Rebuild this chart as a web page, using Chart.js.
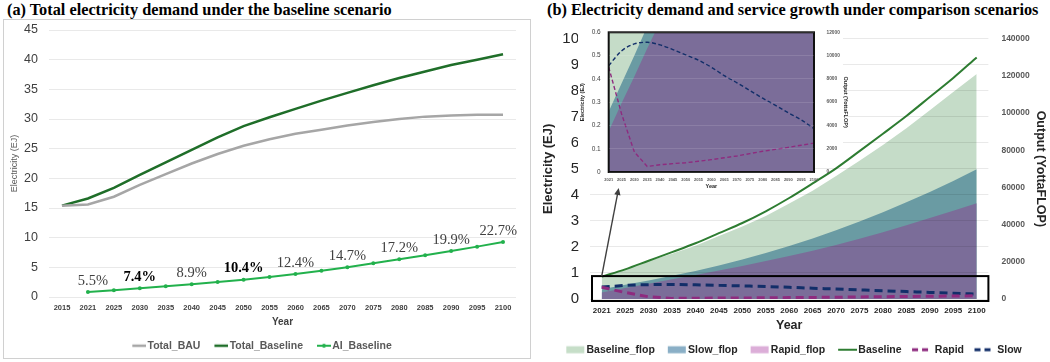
<!DOCTYPE html>
<html><head><meta charset="utf-8">
<script src="https://cdn.jsdelivr.net/npm/chart.js@4/dist/chart.umd.min.js"></script>
<style>
html,body{margin:0;padding:0;background:#fff}
body{width:1050px;height:362px;position:relative;overflow:hidden}
.ttl{position:absolute;top:1px;font-family:"Liberation Serif",serif;font-weight:bold;font-size:16.3px;color:#000;white-space:nowrap;line-height:18px}
#boxA{position:absolute;left:3px;top:19px;width:528px;height:340px;border:1px solid #D0D0D0;box-sizing:border-box}
canvas{position:absolute}
#ca{left:4px;top:20px}
#cb{left:534px;top:20px}
#ci{left:578px;top:26px}
</style></head>
<body>
<div class="ttl" style="left:7px">(a) Total electricity demand under the baseline scenario</div>
<div class="ttl" style="left:547px">(b) Electricity demand and service growth under comparison scenarios</div>
<div id="boxA"></div>
<canvas id="ca" width="524" height="341"></canvas>
<canvas id="cb" width="516" height="345"></canvas>
<canvas id="ci" width="274" height="166"></canvas>
<script>
// ---------- data ----------
const yearsA = ['2015','2021','2025','2030','2035','2040','2045','2050','2055','2060','2065','2070','2075','2080','2085','2090','2095','2100'];
const totalBAU = [15.4,15.6,16.9,18.9,20.7,22.5,24.1,25.5,26.6,27.5,28.2,28.9,29.5,30.0,30.4,30.6,30.7,30.7];
const totalBaseline = [15.4,16.6,18.4,20.6,22.7,24.8,26.9,28.8,30.3,31.7,33.1,34.4,35.7,36.9,38.0,39.1,40.0,40.9];
const aiBaseline = [null,0.86,1.14,1.47,1.8,2.14,2.53,2.92,3.37,3.88,4.44,5.02,5.68,6.35,7.03,7.76,8.49,9.28];
const shareLabels = [null,'5.5%',null,'7.4%',null,'8.9%',null,'10.4%',null,'12.4%',null,'14.7%',null,'17.2%',null,'19.9%',null,'22.7%'];
const boldShares = ['7.4%','10.4%'];

const yearsB = ['2021','2025','2030','2035','2040','2045','2050','2055','2060','2065','2070','2075','2080','2085','2090','2095','2100'];
const baselineEJ = [0.86,1.14,1.47,1.8,2.14,2.53,2.92,3.37,3.88,4.44,5.02,5.68,6.35,7.03,7.76,8.49,9.28];
const rapidEJ = [0.45,0.25,0.086,0.024,0.031,0.036,0.040,0.046,0.053,0.061,0.069,0.079,0.089,0.097,0.106,0.115,0.124];
const slowEJ = [0.457,0.52,0.55,0.557,0.546,0.526,0.503,0.48,0.45,0.414,0.383,0.35,0.317,0.286,0.254,0.224,0.186];
const baselineFlop = [12300,15900,20500,24300,28700,33900,39000,44700,51300,58200,66100,74400,82800,91900,101500,111300,121000];
const slowFlop = [5200,7600,10000,12500,15100,18000,21200,24700,28500,32600,37000,41700,46700,52000,57600,63500,69800];
const rapidFlop = [3500,5900,8200,10600,12900,15300,17800,20400,23100,26000,29100,32400,35900,39600,43500,47400,51500];

// ---------- styling ----------
const SANS = '"Liberation Sans",Arial,sans-serif';
const SERIF = '"Liberation Serif",serif';
const C = {bau:'#A6A6A6', base:'#1F6E29', ai:'#22B14C',
  gFill:'#C5DCC8', sFill:'#6A9BA3', rFill:'#7B6D99',
  gLeg:'#C6DEC8', sLeg:'#8AAFC6', rLeg:'#DCAED8',
  bLine:'#2E7D32', rLine:'#8E2B7F', sLine:'#122E69'};
const plain = v => String(v);
const noPad = s => { s.paddingTop = 0; s.paddingBottom = 0; };

function sym(kind, color, W, f, g, o){
  const cw = Math.round(W + f - 2*g), ch = 12;
  const c = document.createElement('canvas'); c.width = cw; c.height = ch;
  const x = c.getContext('2d'); const x0 = cw - W;
  if (kind === 'box') { x.fillStyle = color; x.fillRect(x0, ch/2 - o.h/2, o.w || W, o.h); }
  else {
    x.strokeStyle = color; x.lineWidth = o.lw; if (o.dash) x.setLineDash(o.dash);
    x.beginPath(); x.moveTo(x0, ch/2); x.lineTo(x0 + (o.len || W), ch/2); x.stroke();
    if (o.dot) { x.fillStyle = color; x.beginPath(); x.arc(x0 + (o.len || W)/2, ch/2, o.dot, 0, Math.PI*2); x.fill(); }
  }
  return c;
}
function legendFrom(symbols, color){
  return (chart) => chart.data.datasets.map((ds, i) => ({
    text: ds.label, pointStyle: symbols[i], fillStyle: 'rgba(0,0,0,0)', strokeStyle: 'rgba(0,0,0,0)',
    lineWidth: 0, hidden: false, datasetIndex: i, fontColor: color }));
}

// ---------- chart (a) ----------
const symA = [
  sym('line', C.bau, 14, 10.5, 1.5, {lw:2.5}),
  sym('line', C.base, 14, 10.5, 1.5, {lw:2.5}),
  sym('line', C.ai, 14, 10.5, 1.5, {lw:2, dot:2})
];
const pctPlugin = {
  id: 'pct',
  afterDatasetsDraw(chart){
    const meta = chart.getDatasetMeta(2), ctx = chart.ctx, area = chart.chartArea;
    ctx.save(); ctx.textAlign = 'center'; ctx.textBaseline = 'middle';
    shareLabels.forEach((t, i) => {
      if (!t) return;
      const p = meta.data[i]; const b = boldShares.includes(t);
      ctx.font = (b ? 'bold ' : '') + '14.5px ' + SERIF;
      ctx.fillStyle = b ? '#000' : '#404040';
      const w = ctx.measureText(t).width;
      const x = Math.min(p.x + (i === 1 ? 5 : 0), area.right + 1 - w/2);
      ctx.fillText(t, x, p.y - 11);
    });
    ctx.restore();
  }
};
new Chart(document.getElementById('ca'), {
  type: 'line',
  data: { labels: yearsA, datasets: [
    {label:'Total_BAU', data: totalBAU, borderColor: C.bau, borderWidth: 2.5, pointRadius: 0, tension: 0},
    {label:'Total_Baseline', data: totalBaseline, borderColor: C.base, borderWidth: 2.5, pointRadius: 0, tension: 0},
    {label:'AI_Baseline', data: aiBaseline, borderColor: C.ai, backgroundColor: C.ai, borderWidth: 2, pointRadius: 2, pointBorderWidth: 0, pointBackgroundColor: C.ai, tension: 0}
  ]},
  options: {
    responsive: false, animation: false, devicePixelRatio: 1,
    layout: {padding: {top: 10, right: 12, bottom: 0, left: 0}},
    plugins: {
      tooltip: {enabled: false},
      legend: {position: 'bottom', labels: {usePointStyle: true, pointStyleWidth: 14, padding: 10,
        font: {family: SANS, size: 10.5, weight: 'bold'}, color: '#595959', generateLabels: legendFrom(symA, '#595959')}}
    },
    scales: {
      x: {offset: true, grid: {display: false, drawTicks: false}, border: {display: false},
        ticks: {font: {family: SANS, size: 7.5, weight: 'bold'}, color: '#404040', padding: 6, autoSkip: false, maxRotation: 0},
        title: {display: true, text: 'Year', font: {family: SANS, size: 10, weight: 'bold', lineHeight: 1}, color: '#404040', padding: {top: 0, bottom: 3}},
        afterFit: s => { s.height = 33.5; }},
      y: {min: 0, max: 45, grid: {color: '#E9E9E9', drawTicks: false}, border: {display: false},
        ticks: {stepSize: 5, font: {family: SANS, size: 12.5}, color: '#404040', padding: 11},
        title: {display: true, text: 'Electricity (EJ)', font: {family: SANS, size: 9, lineHeight: 1}, color: '#595959', padding: {top: 6.5, bottom: 0}},
        afterFit: s => { s.width = 45; noPad(s); }}
    }
  },
  plugins: [pctPlugin]
});

// ---------- inset ----------
const insetBg = {
  id: 'insetBg',
  beforeDraw(chart){
    const c = chart.ctx, a = chart.chartArea; c.save(); c.fillStyle = '#fff';
    c.fillRect(0, 0, a.right + 29, 124);
    c.fillRect(0, 124, a.right + 1, a.bottom + 3 - 124);
    c.restore();
  },
  afterDatasetsDraw(chart){ const c = chart.ctx, a = chart.chartArea; c.save(); c.strokeStyle = '#111'; c.lineWidth = 2; c.strokeRect(a.left, a.top, a.right - a.left, a.bottom - a.top); c.restore(); }
};
const inset = new Chart(document.getElementById('ci'), {
  type: 'line',
  data: { labels: yearsB, datasets: [
    {label:'Baseline_flop', data: baselineFlop, yAxisID: 'y1', fill: 'origin', backgroundColor: C.gFill, borderColor: 'rgba(0,0,0,0)', borderWidth: 0, pointRadius: 0, order: 3},
    {label:'Slow_flop', data: slowFlop, yAxisID: 'y1', fill: 'origin', backgroundColor: C.sFill, borderColor: 'rgba(0,0,0,0)', borderWidth: 0, pointRadius: 0, order: 2},
    {label:'Rapid_flop', data: rapidFlop, yAxisID: 'y1', fill: 'origin', backgroundColor: C.rFill, borderColor: 'rgba(0,0,0,0)', borderWidth: 0, pointRadius: 0, order: 1},
    {label:'Rapid', data: rapidEJ, yAxisID: 'y', borderColor: C.rLine, borderWidth: 1.4, borderDash: [4, 2.5], pointRadius: 0, order: 0},
    {label:'Slow', data: slowEJ, yAxisID: 'y', borderColor: C.sLine, borderWidth: 1.4, borderDash: [4, 2.5], pointRadius: 0, order: 0, cubicInterpolationMode: 'monotone'}
  ]},
  options: {
    responsive: false, animation: false, devicePixelRatio: 1,
    layout: {padding: {top: 6.3, right: 0, bottom: 0, left: 0}},
    plugins: {legend: {display: false}, tooltip: {enabled: false}},
    scales: {
      x: {offset: false, grid: {display: false, drawTicks: false}, border: {display: false},
        ticks: {font: {family: SANS, size: 4, weight: 'bold'}, color: '#595959', padding: 5, autoSkip: false, maxRotation: 0},
        title: {display: true, text: 'Year', font: {family: SANS, size: 5.5, weight: 'bold', lineHeight: 1}, color: '#262626', padding: {top: 0, bottom: 3}},
        afterFit: s => { s.height = 20; }},
      y: {min: 0, max: 0.6, grid: {color: 'rgba(255,255,255,0.12)', drawTicks: false, z: 1}, border: {display: false},
        ticks: {stepSize: 0.1, font: {family: SANS, size: 6.5}, color: '#404040', padding: 8},
        title: {display: true, text: 'Electricity (EJ)', font: {family: SANS, size: 5.5, weight: 'bold', lineHeight: 1}, color: '#262626', padding: {top: 2, bottom: 0}},
        afterFit: s => { s.width = 30.7; noPad(s); }},
      y1: {position: 'right', min: 0, max: 12000, grid: {display: false, drawTicks: false}, border: {display: false},
        ticks: {stepSize: 2000, callback: plain, font: {family: SANS, size: 4.8, weight: 'bold'}, color: '#595959', padding: 12.5},
        title: {display: true, text: 'Output (YottaFLOP)', font: {family: SANS, size: 5.5, weight: 'bold', lineHeight: 1}, color: '#262626', padding: {top: 4, bottom: 0}},
        afterFit: s => { s.width = 38; noPad(s); }}
    }
  },
  plugins: [insetBg]
});

// ---------- chart (b) ----------
const symB = [
  sym('box', C.gLeg, 19, 10.5, 1.5, {h: 7, w: 18}),
  sym('box', C.sLeg, 19, 10.5, 1.5, {h: 7, w: 18}),
  sym('box', C.rLeg, 19, 10.5, 1.5, {h: 7, w: 18}),
  sym('line', C.bLine, 19, 10.5, 1.5, {lw: 2, len: 20}),
  sym('line', C.rLine, 19, 10.5, 4, {lw: 3, dash: [6, 4], len: 17}),
  sym('line', C.sLine, 19, 10.5, 4, {lw: 3, dash: [6, 4], len: 17})
];
const zoomMark = {
  id: 'zoomMark',
  afterDatasetsDraw(chart){
    const c = chart.ctx, a = chart.chartArea, xs = chart.scales.x, ys = chart.scales.y;
    const top = ys.getPixelForValue(0.88), bot = ys.getPixelForValue(0) + 2;
    c.save();
    c.strokeStyle = '#000'; c.lineWidth = 2;
    c.strokeRect(a.left + 2, top, a.right - a.left - 2, bot - top);
    const sx = xs.getPixelForValue(0), sy = top;
    const tx = inset.chartArea.left + 10 + (578 - 534), ty = inset.chartArea.bottom + 16 + (26 - 20);
    const ang = Math.atan2(ty - sy, tx - sx);
    c.strokeStyle = '#404040'; c.fillStyle = '#404040'; c.lineWidth = 1.4;
    c.beginPath(); c.moveTo(sx, sy); c.lineTo(tx - Math.cos(ang)*5, ty - Math.sin(ang)*5); c.stroke();
    c.beginPath(); c.moveTo(tx, ty);
    c.lineTo(tx - Math.cos(ang)*7 + Math.sin(ang)*3.2, ty - Math.sin(ang)*7 - Math.cos(ang)*3.2);
    c.lineTo(tx - Math.cos(ang)*7 - Math.sin(ang)*3.2, ty - Math.sin(ang)*7 + Math.cos(ang)*3.2);
    c.closePath(); c.fill();
    c.restore();
  }
};
new Chart(document.getElementById('cb'), {
  type: 'line',
  data: { labels: yearsB, datasets: [
    {label:'Baseline_flop', data: baselineFlop, yAxisID: 'y1', fill: 'origin', backgroundColor: C.gFill, borderColor: 'rgba(0,0,0,0)', borderWidth: 0, pointRadius: 0, order: 3},
    {label:'Slow_flop', data: slowFlop, yAxisID: 'y1', fill: 'origin', backgroundColor: C.sFill, borderColor: 'rgba(0,0,0,0)', borderWidth: 0, pointRadius: 0, order: 2},
    {label:'Rapid_flop', data: rapidFlop, yAxisID: 'y1', fill: 'origin', backgroundColor: C.rFill, borderColor: 'rgba(0,0,0,0)', borderWidth: 0, pointRadius: 0, order: 1},
    {label:'Baseline', data: baselineEJ, yAxisID: 'y', borderColor: C.bLine, borderWidth: 2, pointRadius: 0, order: 0, cubicInterpolationMode: 'monotone'},
    {label:'Rapid', data: rapidEJ, yAxisID: 'y', borderColor: C.rLine, borderWidth: 3, borderDash: [8, 5], pointRadius: 0, order: 0},
    {label:'Slow', data: slowEJ, yAxisID: 'y', borderColor: C.sLine, borderWidth: 3, borderDash: [8, 5], pointRadius: 0, order: 0, cubicInterpolationMode: 'monotone'}
  ]},
  options: {
    responsive: false, animation: false, devicePixelRatio: 1,
    layout: {padding: {top: 18.7, right: 0, bottom: 0, left: 0}},
    plugins: {
      tooltip: {enabled: false},
      legend: {position: 'bottom', labels: {usePointStyle: true, pointStyleWidth: 19, padding: 9,
        font: {family: SANS, size: 10.5, weight: 'bold'}, color: '#262626', generateLabels: legendFrom(symB, '#262626')}}
    },
    scales: {
      x: {offset: true, grid: {display: false, drawTicks: false}, border: {display: false},
        ticks: {font: {family: SANS, size: 8, weight: 'bold'}, color: '#262626', padding: 7, autoSkip: false, maxRotation: 0},
        title: {display: true, text: 'Year', font: {family: SANS, size: 12.5, weight: 'bold', lineHeight: 1}, color: '#262626', padding: {top: 0, bottom: 4}},
        afterFit: s => { s.height = 36.5; }},
      y: {min: 0, max: 10, grid: {color: 'rgba(0,0,0,0.085)', drawTicks: false, z: 1}, border: {display: false},
        ticks: {stepSize: 1, font: {family: SANS, size: 15}, color: '#262626', padding: 11},
        title: {display: true, text: 'Electricity (EJ)', font: {family: SANS, size: 13, weight: 'bold', lineHeight: 1}, color: '#262626', padding: {top: 7.5, bottom: 0}},
        afterFit: s => { s.width = 56; noPad(s); }},
      y1: {position: 'right', min: 0, max: 140000, grid: {display: false, drawTicks: false}, border: {display: false},
        ticks: {stepSize: 20000, callback: plain, font: {family: SANS, size: 8.5, weight: 'bold'}, color: '#595959', padding: 13},
        title: {display: true, text: 'Output (YottaFLOP)', font: {family: SANS, size: 12.5, weight: 'bold', lineHeight: 1}, color: '#262626', padding: {top: 3.5, bottom: 0}},
        afterFit: s => { s.width = 61.6; noPad(s); }}
    }
  },
  plugins: [zoomMark]
});
</script>
</body></html>
